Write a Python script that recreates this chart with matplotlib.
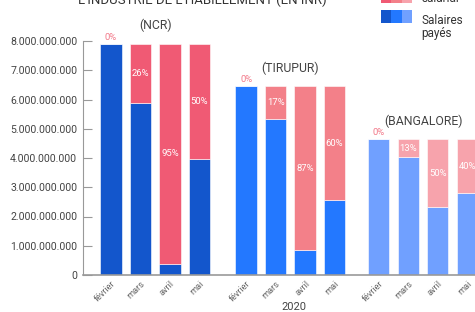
import matplotlib
matplotlib.use("Agg")
import matplotlib.pyplot as plt
from matplotlib.patches import Rectangle
import numpy as np

plt.rcParams['font.family'] = ['Roboto', 'DejaVu Sans']

months = ["février", "mars", "avril", "mai"]
regions = ["(NCR)", "(TIRUPUR)", "(BANGALORE)"]

# values in billions INR
ncr_paid = [7.90, 5.87, 0.38, 3.95]
ncr_unpaid = [0.00, 2.03, 7.52, 3.95]
tirupur_paid = [6.45, 5.33, 0.84, 2.57]
tirupur_unpaid = [0.00, 1.12, 5.61, 3.88]
bangalore_paid = [4.65, 4.03, 2.32, 2.79]
bangalore_unpaid = [0.00, 0.62, 2.33, 1.86]

ncr_pct = ["0%", "26%", "95%", "50%"]
tirupur_pct = ["0%", "17%", "87%", "60%"]
bangalore_pct = ["0%", "13%", "50%", "40%"]

yticks = [0, 1e9, 2e9, 3e9, 4e9, 5e9, 6e9, 7e9, 8e9]
ytick_labels = ["0", "1.000.000.000", "2.000.000.000", "3.000.000.000",
                "4.000.000.000", "5.000.000.000", "6.000.000.000",
                "7.000.000.000", "8.000.000.000"]

paid_colors = ["#1356CC", "#2378FF", "#70A0FF"]
unpaid_colors = ["#F05A74", "#F38089", "#F7A3AC"]

fig = plt.figure(figsize=(4.75, 3.12), dpi=100)
ax = fig.add_axes([82.7/475, 1-275/312, 1-82.7/475, 234/312])

offsets = [0.0, 4.58, 9.08]
groups = [(ncr_paid, ncr_unpaid, ncr_pct),
          (tirupur_paid, tirupur_unpaid, tirupur_pct),
          (bangalore_paid, bangalore_unpaid, bangalore_pct)]

xt, xl = [], []
for gi, (paid, unpaid, pct) in enumerate(groups):
    x = offsets[gi] + np.arange(4)
    p = np.array(paid) * 1e9
    u = np.array(unpaid) * 1e9
    ax.bar(x, p, width=0.72, color=paid_colors[gi], edgecolor="white", linewidth=0.4)
    ax.bar(x, u, bottom=p, width=0.72, color=unpaid_colors[gi], edgecolor="white", linewidth=0.4)
    tot = p + u
    for xi, pi, ui, lab in zip(x, p, u, pct):
        if ui <= 0:
            ax.text(xi, pi + 0.08e9, lab, ha="center", va="bottom", fontsize=6.8,
                    color="#F27A8A", clip_on=False)
        else:
            ax.text(xi, pi + ui / 2, lab, ha="center", va="center", fontsize=6.8,
                    color="white", clip_on=False)
    ax.text(x.mean(), tot.max() + 0.62e9, regions[gi], ha="center", va="center",
            fontsize=8.8, color="#444444", clip_on=False)
    xt.extend(x)
    xl.extend(months)

ax.set_xlim(-0.96, 12.34)
ax.set_ylim(0, 8e9)
ax.set_yticks(yticks)
ax.set_yticklabels(ytick_labels, fontsize=7.6, color="#444444")
ax.set_xticks(xt)
ax.set_xticklabels(xl, rotation=45, ha="right", rotation_mode="anchor",
                   fontsize=6.6, color="#666666")
ax.tick_params(axis="x", length=0, pad=3)
ax.tick_params(axis="y", direction="in", length=6.5, width=0.8, color="#999999", pad=4)
for s in ["top", "right"]:
    ax.spines[s].set_visible(False)
ax.spines["left"].set_color("#999999")
ax.spines["left"].set_linewidth(0.8)
ax.spines["bottom"].set_color("#999999")
ax.spines["bottom"].set_linewidth(1.2)

fig.text(294/475, 1-307/312, "2020", ha="center", va="center", fontsize=8, color="#444444")

fig.text(202/475, 1.0, "L'INDUSTRIE DE L'HABILLEMENT (EN INR)", ha="center", va="center",
         fontsize=9.5, color="#333333")

# legend drawn manually
def swatches(y_top_px, colors):
    for i, c in enumerate(colors):
        fig.patches.append(Rectangle(((381 + i*10.3)/475, 1-(y_top_px+13)/312), 10.3/475, 13/312,
                                     transform=fig.transFigure, facecolor=c,
                                     edgecolor="none", figure=fig))

swatches(-10, unpaid_colors)
swatches(10, paid_colors)
fig.text(421/475, 1-(-1)/312, "salarial", ha="left", va="center", fontsize=8.5, color="#333333")
fig.text(421/475, 1-20/312, "Salaires", ha="left", va="center", fontsize=8.5, color="#333333")
fig.text(421/475, 1-34/312, "payés", ha="left", va="center", fontsize=8.5, color="#333333")

fig.savefig("out.png", dpi=100)
